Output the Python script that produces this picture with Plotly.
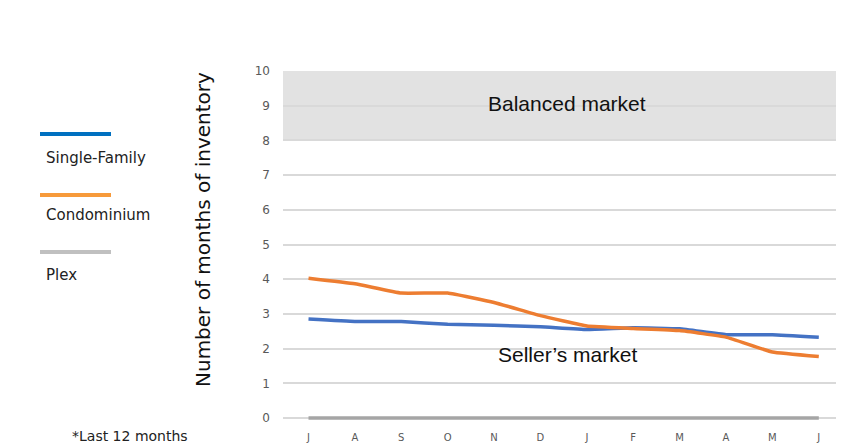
import plotly.graph_objects as go

months = ["J", "A", "S", "O", "N", "D", "J ", "F", "M", "A ", "M ", "J  "]
tick_labels = ["J", "A", "S", "O", "N", "D", "J", "F", "M", "A", "M", "J"]
single_family = [2.85, 2.78, 2.78, 2.70, 2.67, 2.63, 2.55, 2.60, 2.57, 2.40, 2.40, 2.33]
condominium = [4.03, 3.87, 3.60, 3.60, 3.33, 2.95, 2.65, 2.58, 2.52, 2.33, 1.90, 1.77]
plex = [0, 0, 0, 0, 0, 0, 0, 0, 0, 0, 0, 0]
series_names = ["Single-Family", "Condominium", "Plex"]
line_colors = ["#4472C4", "#ED7D31", "#A5A5A5"]
legend_colors = ["#0070C0", "#F79A3A", "#C0C0C0"]
balanced_range = [8, 10]
y_title = "Number of months of inventory"

# page geometry of the plot area (browser body has an 8px margin)
OFF = 8
PL, PR, PT, PB = 283, 842, 71, 421
PW, PH = PR - PL, PB - PT
Y_LOW = -(PB - 418) / ((418 - 71) / 10.0)


def px(x):
    return (x - PL) / PW


def py(y):
    return (PB - y) / PH


xs = list(range(len(months)))
fig = go.Figure()

fig.add_shape(type="rect", xref="paper", yref="y", x0=0, x1=1,
              y0=balanced_range[0], y1=balanced_range[1],
              fillcolor="#E2E2E2", line_width=0, layer="below")

for name, vals, col in [(series_names[2], plex, line_colors[2]),
                        (series_names[0], single_family, line_colors[0]),
                        (series_names[1], condominium, line_colors[1])]:
    fig.add_trace(go.Scatter(x=xs, y=vals, mode="lines", name=name,
                             line=dict(color=col, width=3.5, shape="spline", smoothing=0.3),
                             showlegend=False, hoverinfo="y"))

fig.add_annotation(x=5.58, y=9.05, xref="x", yref="y", text="Balanced market",
                   showarrow=False, font=dict(family="Liberation Sans, Arial", size=21, color="#111"))
fig.add_annotation(x=5.58, y=1.82, xref="x", yref="y", text="Seller’s market",
                   showarrow=False, font=dict(family="Liberation Sans, Arial", size=21, color="#111"))

# custom legend (line above label)
leg_line_y = [134, 195, 252]
leg_text_y = [158, 215, 275]
for i, name in enumerate(series_names):
    fig.add_shape(type="line", xref="paper", yref="paper",
                  x0=px(40), x1=px(111), y0=py(leg_line_y[i]), y1=py(leg_line_y[i]),
                  line=dict(color=legend_colors[i], width=4))
    fig.add_annotation(xref="paper", yref="paper", x=px(44),
                       y=py(leg_text_y[i]), text=name, showarrow=False,
                       xanchor="left", yanchor="middle",
                       font=dict(family="DejaVu Sans", size=15, color="#222"))

fig.add_annotation(xref="paper", yref="paper", x=px(70), y=py(436),
                   text="*Last 12 months", showarrow=False, xanchor="left", yanchor="middle",
                   font=dict(family="DejaVu Sans", size=14, color="#222"))

fig.add_annotation(xref="paper", yref="paper", x=px(203), y=py(230),
                   text=y_title, textangle=-90, showarrow=False,
                   xanchor="center", yanchor="middle",
                   font=dict(family="DejaVu Sans", size=20, color="#111"))

fig.update_layout(
    width=844 - OFF, height=445 - OFF,
    margin=dict(l=PL - OFF, r=844 - PR, t=PT - OFF, b=445 - PB),
    plot_bgcolor="white", paper_bgcolor="white",
    showlegend=False,
)
fig.update_xaxes(tickmode="array", tickvals=xs, ticktext=tick_labels,
                 range=[-0.55, 11.5], showgrid=False, zeroline=False,
                 tickfont=dict(family="DejaVu Sans", size=10, color="#595959"),
                 ticks="", ticklen=0, ticklabelstandoff=9, automargin=False)
fig.update_yaxes(range=[Y_LOW, 10], tickvals=list(range(0, 11)), showgrid=True,
                 gridcolor="#D9D9D9", gridwidth=1.5, zeroline=False,
                 tickfont=dict(family="DejaVu Sans", size=12, color="#595959"),
                 ticklabelstandoff=12, automargin=False)

fig.write_html("out.html")
